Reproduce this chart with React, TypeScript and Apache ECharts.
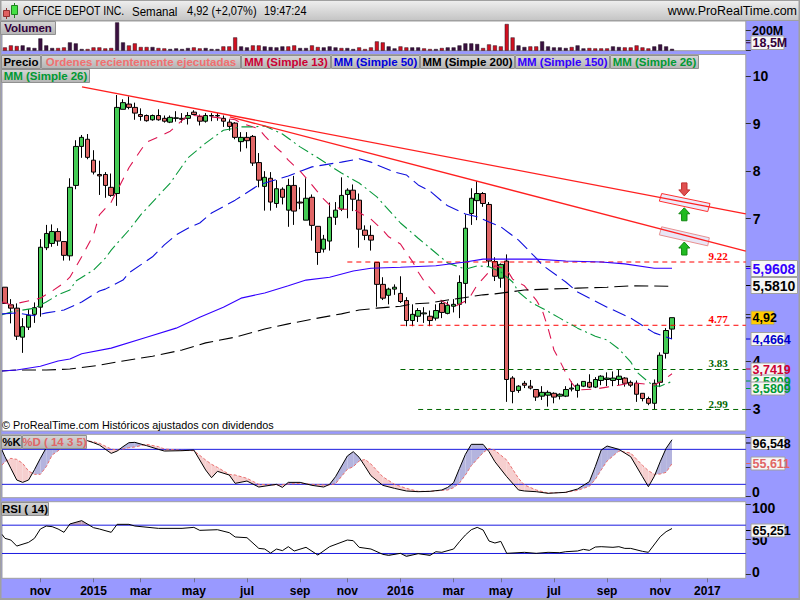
import React, { useEffect, useRef } from "react";
import * as echarts from "echarts";

const FONT = '"Liberation Sans", Arial, sans-serif';
const BG = "#9999ff";

// [open, close, low, high], one row per week
const candles: number[][] = [
  [5.56,5.22,5.22,5.56],[5.19,5.12,4.80,5.31],[5.12,4.53,4.45,5.22],[4.51,4.73,4.18,4.91],[4.72,4.97,4.66,5.10],
  [4.99,5.13,4.81,5.24],[5.14,6.40,4.94,6.57],[6.39,6.69,6.34,6.87],[6.48,6.73,6.41,6.88],[6.73,6.53,6.43,6.80],
  [6.52,6.23,6.12,6.52],[6.22,7.66,6.12,7.85],[7.70,8.52,7.62,8.65],[8.52,8.71,8.28,8.76],[8.67,8.29,8.25,8.78],
  [8.23,7.98,7.93,8.44],[7.93,7.90,7.50,8.22],[7.93,7.70,7.44,7.98],[7.66,7.49,7.46,7.95],[7.53,9.34,7.27,9.60],
  [9.30,9.44,9.30,9.51],[9.41,9.34,9.30,9.57],[9.34,9.22,9.08,9.44],[9.19,9.15,9.06,9.32],[9.17,9.06,9.04,9.19],
  [9.08,9.17,9.06,9.19],[9.17,9.08,9.06,9.30],[9.11,9.05,9.02,9.17],[9.03,9.13,9.01,9.17],[9.11,9.12,9.04,9.26],
  [9.11,9.09,9.02,9.22],[9.11,9.17,8.98,9.24],[9.24,9.19,9.19,9.28],[9.15,9.05,8.96,9.19],[9.05,9.17,9.02,9.22],
  [9.16,9.17,9.05,9.22],[9.16,9.17,9.06,9.22],[9.11,9.05,8.93,9.17],[9.03,8.94,8.85,9.09],[9.01,8.71,8.67,9.03],
  [8.62,8.71,8.41,8.82],[8.71,8.64,8.48,8.82],[8.73,8.17,8.11,8.76],[8.18,7.81,7.66,8.38],[7.68,7.87,7.17,8.00],
  [7.85,7.35,7.17,7.98],[7.32,7.63,7.23,7.81],[7.62,7.45,7.30,7.66],[7.18,7.70,6.83,7.84],[7.70,7.16,6.87,7.90],
  [7.35,7.33,7.20,7.66],[6.97,7.43,6.97,7.85],[7.45,6.86,6.54,7.51],[6.84,6.29,6.03,6.84],[6.36,6.57,6.29,6.66],
  [6.53,7.03,6.33,7.34],[7.03,7.18,6.87,7.35],[7.20,7.49,7.16,7.87],[7.51,7.60,7.01,7.64],[7.60,7.41,7.16,7.72],
  [7.39,6.78,6.39,7.53],[6.76,6.65,6.55,6.86],[6.65,6.55,6.33,6.86],[6.08,5.62,5.15,6.08],[5.62,5.33,5.29,5.77],
  [5.39,5.52,5.20,5.55],[5.52,5.56,5.40,5.62],[5.43,5.26,5.23,5.79],[5.28,4.86,4.74,5.35],[4.86,4.99,4.74,5.20],
  [4.95,5.07,4.83,5.12],[5.00,5.02,4.81,5.14],[4.95,4.86,4.74,5.07],[4.91,5.07,4.86,5.20],[5.22,5.03,4.91,5.26],
  [5.01,5.18,4.99,5.26],[5.16,5.20,5.03,5.31],[5.20,5.66,4.91,5.81],[5.64,6.80,5.22,7.09],[7.11,7.43,6.87,7.64],
  [7.38,7.53,6.97,7.79],[7.53,7.32,7.25,7.56],[7.30,6.11,5.99,7.35],[6.10,5.79,5.69,6.19],[5.75,6.04,5.55,6.06],
  [6.11,3.62,3.15,6.25],[3.65,3.37,3.12,3.69],[3.39,3.48,3.34,3.50],[3.54,3.50,3.44,3.59],[3.48,3.44,3.41,3.61],
  [3.41,3.25,3.17,3.41],[3.27,3.35,3.19,3.48],[3.29,3.35,3.05,3.39],[3.33,3.25,3.12,3.35],[3.27,3.31,3.20,3.33],
  [3.27,3.41,3.25,3.48],[3.42,3.44,3.37,3.58],[3.39,3.50,3.24,3.54],[3.48,3.58,3.46,3.58],[3.56,3.46,3.44,3.73],
  [3.46,3.62,3.44,3.67],[3.60,3.69,3.50,3.71],[3.62,3.65,3.48,3.77],[3.60,3.65,3.48,3.79],[3.62,3.69,3.50,3.82],
  [3.65,3.54,3.47,3.67],[3.56,3.50,3.46,3.60],[3.54,3.31,3.15,3.60],[3.33,3.22,3.16,3.33],[3.22,3.12,3.08,3.26],
  [3.12,3.54,2.99,3.62],[3.56,4.13,3.46,4.19],[4.17,4.65,4.06,4.70],[4.68,4.92,4.47,4.92],
];

// millions of shares
const volumes = [
  33,53,47,53,33,27,123,53,27,27,33,83,73,17,17,33,33,23,27,283,83,53,73,37,37,37,27,23,17,23,
  17,27,33,23,27,17,17,43,43,133,43,33,53,53,43,37,33,43,43,53,27,27,53,37,33,43,33,27,27,17,
  33,17,33,93,83,43,23,43,33,33,33,23,17,17,27,33,33,53,73,73,67,27,63,53,43,267,133,53,37,43,
  43,93,43,33,33,27,37,53,23,27,23,23,23,43,37,33,33,53,33,23,43,63,43,18.5,
];
const volumeDownWeeks = [0,1,2,9,10,14,15,16,17,18,21,22,23,24,26,27,32,33,37,38,39,42,43,48,49,52,53,57,60,61,62,63,64,67,68,71,72,74,81,82,83,84,85,86,89,90,96,99,100,101,102,105,106,107,108,109];

// [week, price] read along each moving average
const ma13: number[][] = [[-0.5,5.25],[1,5.19],[6,5.33],[8,5.48],[10,5.65],[11,5.77],[13,6.20],[15,6.66],[16,7.08],[18,7.35],[21,8.07],[23,8.44],[24,8.61],[26,8.72],[28,8.84],[29,8.95],[31,9.18],[35,9.14],[39,9.08],[40,9.01],[43,8.89],[44,8.74],[46,8.49],[47,8.38],[48,8.23],[50,8.00],[51,7.86],[52,7.71],[54,7.41],[55,7.29],[57,7.20],[59,7.20],[61,7.06],[62,6.99],[64,6.76],[65,6.62],[67,6.47],[68,6.28],[69,6.11],[70,5.88],[71,5.69],[73,5.40],[74,5.27],[76,5.14],[78,5.27],[79,5.40],[80,5.61],[82,5.88],[83,6.01],[85,5.94],[86,5.73],[88,5.59],[90,5.29],[91,5.08],[92,4.70],[93,4.24],[94,4.01],[95,3.76],[96,3.55],[97,3.40],[100,3.42],[102,3.46],[104,3.50],[106,3.55],[108,3.53],[110,3.50],[111,3.57],[112,3.65],[113,3.74]];
const ma26: number[][] = [[-0.5,4.98],[1,5.04],[5,5.12],[7,5.25],[9,5.40],[11,5.50],[12,5.69],[15,5.92],[17,6.17],[18,6.34],[21,6.76],[23,7.08],[25,7.35],[28,7.75],[31,8.28],[34,8.59],[37,8.86],[40,8.93],[42,8.93],[44,8.95],[47,8.78],[50,8.51],[53,8.28],[57,7.96],[60,7.75],[63,7.46],[67,6.91],[70,6.59],[73,6.28],[75,6.07],[78,5.94],[80,6.01],[82,5.99],[84,5.88],[86,5.67],[87,5.46],[89,5.25],[91,5.12],[94,4.91],[97,4.70],[100,4.53],[102,4.45],[104,4.26],[106,3.99],[107,3.78],[109,3.57],[110,3.48],[111,3.48],[112,3.53],[113,3.58]];
const ma50: number[][] = [[-0.5,5.00],[2,5.02],[5,4.96],[7,5.02],[10,5.08],[13,5.25],[16,5.48],[17,5.52],[20,5.71],[21,5.86],[25,6.20],[27,6.45],[29,6.66],[31,6.80],[33,6.91],[35,7.12],[39,7.39],[43,7.71],[48,7.90],[52,8.09],[57,8.19],[60,8.26],[62,8.19],[63,8.13],[66,7.98],[68,7.92],[70,7.71],[72,7.58],[74,7.37],[75,7.27],[78,7.10],[80,7.04],[82,6.93],[84,6.83],[87,6.55],[90,6.17],[91,6.03],[95,5.67],[97,5.46],[102,5.14],[106,4.91],[110,4.60],[113,4.47]];
const ma150: number[][] = [[-0.5,3.80],[2,3.82],[6,3.90],[9,4.01],[11,4.05],[13,4.16],[18,4.28],[24,4.51],[29,4.70],[33,4.93],[37,5.14],[40,5.33],[44,5.44],[48,5.59],[51,5.71],[55,5.77],[59,5.90],[62,5.96],[67,5.98],[73,6.01],[78,6.09],[81,6.15],[85,6.15],[90,6.15],[95,6.11],[101,6.09],[105,6.05],[110,5.96],[113,5.96]];
const ma200: number[][] = [[-0.5,3.80],[2,3.82],[7,3.82],[11,3.84],[16,3.92],[20,4.01],[25,4.11],[30,4.24],[34,4.39],[39,4.51],[44,4.68],[48,4.79],[53,4.91],[57,5.00],[60,5.08],[63,5.12],[67,5.16],[69,5.21],[72,5.23],[75,5.29],[81,5.40],[83,5.42],[88,5.50],[92,5.52],[97,5.54],[102,5.56],[106,5.59],[113,5.58]];

const trendA = [[13.05,9.77],[125.5,7.10]];
const trendB = [[38.1,9.14],[125.5,6.32]];
const levelRed1 = [[58,6.09],[125.5,6.09]];
const levelRed2 = [[67,4.76],[125.5,4.76]];
const levelGreen1 = [[67,3.83],[125.5,3.83]];
const levelGreen2 = [[70,2.99],[125.5,2.99]];

const zoneUpper = [[111.25,7.53],[119.44,7.32],[119.05,7.15],[110.85,7.37]];
const zoneLower = [[111.25,6.83],[119.32,6.60],[119.05,6.43],[110.85,6.66]];
const arrowDownTip = [115.08,7.48];
const arrowUpTips = [[115.08,7.23],[115.08,6.51]];

// [week, %K, %D]
const stoch: number[][] = [[-0.5,78.8,53.1],[0,67.4,58.8],[1,47.4,64.6],[2,27.4,62.8],[3,23.4,56],[4,27.4,42.8],[5,45.1,37.1],[6,64.6,37.1],[7,82.8,50.3],[8,93.1,70.3],[10,95,84.6],[12,95,93],[14,94.8,94.3],[15,91.4,93.1],[16,87.4,90.3],[18,73.1,80.6],[19,77.1,78.8],[20,84.6,80.6],[21,91.4,82.8],[22,92,84],[24,86.3,88.6],[26,80,84.6],[27,77.1,80.6],[30,77.7,78.3],[32,78.8,77.7],[34,44.6,61.7],[35,31.4,54.3],[36,42.3,49.1],[38,36,37.1],[39,21.7,36],[41,25.7,30.3],[43,15.4,20],[46,20,18.9],[47,14.8,19.4],[48,23.4,20.6],[50,23.4,21.7],[52,18.3,20],[54,15.4,18.9],[55,20,18.9],[56,33.1,21.1],[58,68.6,45.7],[59,76,50.3],[60,66.3,60],[61,50.8,62.8],[62,34.8,54.8],[64,18.3,33.1],[66,13.1,20],[68,8.6,13.1],[70,7.4,8],[72,8,8],[74,10.3,9.7],[75,14.8,10.3],[76,22.8,14.3],[77,47.4,22.3],[78,71.4,36],[79,88.6,52],[81,88.6,74.3],[82,76,81.7],[83,58.8,78.3],[85,33.1,61.7],[87,10.3,30.3],[88,8.6,18.9],[90,7.4,10.3],[92,4.6,5.1],[95,6.3,6.3],[97,12,9.7],[99,24.6,16.6],[100,50.3,28.6],[101,78.8,44.6],[102,85.7,60],[104,80,77.1],[106,67.4,73.7],[108,33.1,52.6],[109,16,43.4],[110,33.7,37.1],[111,58.8,37.7],[112,81.7,40.6],[113,96.5,55.6]];
const stochBands = [80, 20];

// [week, RSI]
const rsi: number[][] = [[-0.5,57],[0,51.4],[1,49],[2,40.5],[4,45.7],[5,51.4],[6,64.6],[7,68.8],[8,67.9],[9,64.6],[10,59.9],[11,71.7],[13,76.4],[15,66.5],[16,64.6],[18,59.9],[19,71.2],[21,71.2],[22,68.8],[26,65.5],[30,65.5],[32,66.9],[33,62.7],[36,63.6],[38,59.4],[39,53.3],[41,52.3],[43,37.2],[44,36.3],[45,30.6],[46,36.3],[47,34],[48,39.6],[49,33.5],[51,38.7],[53,27.8],[55,39.6],[58,49],[59,48.1],[60,38.7],[62,36.3],[64,28.8],[65,27.3],[67,30.2],[68,25.9],[70,29.7],[72,27.3],[73,32.5],[74,31.6],[76,36.3],[77,46.7],[78,56.1],[79,63.6],[80,66.9],[81,63.2],[82,47.6],[83,44.8],[84,47.1],[85,30.2],[88,31.6],[90,30.2],[92,31.6],[94,31.1],[95,32.5],[97,33.5],[98,35.8],[99,34.4],[100,39.1],[101,39.6],[103,38.7],[104,39.6],[105,37.2],[106,37.2],[108,33],[109,31.6],[111,53.7],[112,60.8],[113,65.25]];
const rsiBands = [70, 30];

const weekCount = 126;
const tickWeeks = [6,15,23,32,41,50,58,67,76,84,93,102,111,119];
const tickLabels = ["nov","2015","mar","may","jul","sep","nov","2016","mar","may","jul","sep","nov","2017"];
const priceTicks = [3,4,5,6,7,8,9,10];
const priceLabels = [3,4,7,8,9,10];
const stochTicks = [0,50,100];
const rsiTicks = [0,50,100];
const volumeTicks = [0,100,200];

const categories = Array.from({ length: weekCount }, (_, i) => {
  const k = tickWeeks.indexOf(i);
  return k >= 0 ? tickLabels[k] : "";
});

const GRID_L = 2, GRID_W = 743.8;
const panes = [
  { top: 21, height: 29.7, min: 0, max: 297 },
  { top: 54.5, height: 376.5, min: 2.5375, max: 10.452 },
  { top: 434.3, height: 63.4, min: -2.9, max: 105.8 },
  { top: 501.7, height: 76.6, min: -5.1, max: 103.2 },
];

function gradient(a: string, b: string) {
  return new echarts.graphic.LinearGradient(0, 0, 0, 1, [
    { offset: 0, color: a },
    { offset: 1, color: b },
  ]);
}

function chip(x: number, y: number, w: number, h: number, label: string, color: string, size = 11.5) {
  return [
    { type: "rect", z: 100, shape: { x: x + 0.5, y: y + 0.5, width: w - 1, height: h - 1 },
      style: { fill: gradient("#d6d6d6", "#b4b4b4"), stroke: "#909090", lineWidth: 1 } },
    { type: "text", z: 101, x: x + w / 2, y: y + h / 2,
      style: { text: label, fill: color, font: `bold ${size}px ${FONT}`, textAlign: "center", textVerticalAlign: "middle" } },
  ];
}

function valueBox(x: number, y: number, w: number, h: number, label: string, color: string, size: number, fill = "#f6f6f6", z = 110) {
  return [
    { type: "line", z, shape: { x1: 746, y1: y + h / 2, x2: 751, y2: y + h / 2 }, style: { stroke: color, lineWidth: 1 } },
    { type: "rect", z, shape: { x: x + 0.5, y: y + 0.5, width: w - 1, height: h - 1 }, style: { fill, stroke: "#a0a0a0", lineWidth: 1 } },
    { type: "text", z: z + 1, x: x + 2, y: y + h / 2 + 0.5,
      style: { text: label, fill: color, font: `bold ${size}px ${FONT}`, textAlign: "left", textVerticalAlign: "middle" } },
  ];
}

function plain(x: number, y: number, label: string, color: string, font: string, align = "left", z = 100, scaleX = 1) {
  return { type: "text", z, x, y, scaleX, style: { text: label, fill: color, font, textAlign: align, textVerticalAlign: "middle" } };
}

// Polygons between two curves, split where they cross
function fillPolys(pts: number[][], upColor: string, downColor: string, onlyUp = false, onlyDown = false) {
  const out: { pts: number[][]; color: string }[] = [];
  for (let i = 0; i < pts.length - 1; i++) {
    const [x0, a0, b0] = pts[i];
    const [x1, a1, b1] = pts[i + 1];
    const d0 = a0 - b0, d1 = a1 - b1;
    const push = (p: number[][], up: boolean) => {
      if ((up && onlyDown) || (!up && onlyUp)) return;
      out.push({ pts: p, color: up ? upColor : downColor });
    };
    if (d0 * d1 < 0) {
      const t = d0 / (d0 - d1);
      const xc = x0 + t * (x1 - x0);
      const yc = a0 + t * (a1 - a0);
      push([[x0, a0], [xc, yc], [x0, b0]], d0 > 0);
      push([[xc, yc], [x1, a1], [x1, b1]], d1 > 0);
    } else {
      push([[x0, a0], [x1, a1], [x1, b1], [x0, b0]], d0 + d1 > 0);
    }
  }
  return out;
}

function polySeries(polys: { pts: number[][]; color: string; stroke?: string }[], xi: number, yi: number, z: number) {
  return {
    type: "custom", xAxisIndex: xi, yAxisIndex: yi, z, silent: true, clip: true,
    data: polys.map((p) => p.pts[0]),
    encode: { x: 0, y: 1 },
    renderItem: (params: any, api: any) => {
      const poly = polys[params.dataIndex];
      return {
        type: "polygon",
        shape: { points: poly.pts.map((q) => api.coord(q)) },
        style: { fill: poly.color, stroke: poly.stroke || "none", lineWidth: 1 },
      };
    },
  };
}

function arrowSeries(tips: number[][], dir: number, fill: string, stroke: string) {
  return {
    type: "custom", xAxisIndex: 4, yAxisIndex: 1, z: 8, silent: true,
    data: tips, encode: { x: 0, y: 1 },
    renderItem: (_: any, api: any) => {
      const c = api.coord([api.value(0), api.value(1)]);
      const s = dir;
      const pts = [[0,0],[5.5,6*s],[2.7,6*s],[2.7,13*s],[-2.7,13*s],[-2.7,6*s],[-5.5,6*s]].map((p) => [c[0] + p[0], c[1] + p[1]]);
      return { type: "polygon", shape: { points: pts }, style: { fill, stroke, lineWidth: 1 } };
    },
  };
}

function maSeries(data: number[][], color: string, dash: number[] | null, z = 6) {
  return {
    type: "line", xAxisIndex: 4, yAxisIndex: 1, data, symbol: "none", z, silent: true,
    lineStyle: { color, width: 1.1, type: dash || "solid" },
  };
}

function flat(data: number[][], xi: number, yi: number, color: string, dash: number[] | null, width = 1, z = 5) {
  return { type: "line", xAxisIndex: xi, yAxisIndex: yi, data, symbol: "none", z, silent: true,
    lineStyle: { color, width, type: dash || "solid" } };
}

export default function App() {
  const ref = useRef<HTMLDivElement>(null);
  useEffect(() => {
    const chart = echarts.init(ref.current!, undefined, { renderer: "svg" });

    const catAxis = (gridIndex: number, show: boolean) => ({
      type: "category", gridIndex, data: categories, boundaryGap: true,
      axisLine: { show: false, onZero: false },
      axisTick: show
        ? { show: true, alignWithLabel: true, length: 4, lineStyle: { color: "#707090" }, interval: (i: number) => tickWeeks.includes(i) }
        : { show: false },
      axisLabel: show
        ? { show: true, interval: (i: number) => tickWeeks.includes(i), color: "#000", fontFamily: FONT, fontWeight: "bold", fontSize: 12, margin: 7 }
        : { show: false },
      splitLine: { show: false },
    });
    const valAxis = (gridIndex: number) => ({
      type: "value", gridIndex, min: -0.5, max: weekCount - 0.5, show: false, splitLine: { show: false },
    });
    const yAxis = (i: number, ticks: number[], labels: number[] | null) => ({
      type: "value", gridIndex: i, position: "right", min: panes[i].min, max: panes[i].max, scale: true,
      axisLine: { show: false, onZero: false },
      splitLine: { show: false },
      axisTick: { show: true, length: 5, lineStyle: { color: "#303030" }, customValues: ticks },
      axisLabel: labels
        ? { show: true, customValues: labels, color: "#000", fontFamily: FONT, fontWeight: "bold", fontSize: 14, margin: 7, align: "left", showMinLabel: true, showMaxLabel: true }
        : { show: false },
    });

    const downSet = new Set(volumeDownWeeks);

    const graphic: any[] = [
      // frame
      { type: "rect", z: 90, shape: { x: 0, y: 0, width: 800, height: 20.5 }, style: { fill: gradient("#f0f0f0", "#c4c4c4") } },
      { type: "line", z: 91, shape: { x1: 0, y1: 0.5, x2: 800, y2: 0.5 }, style: { stroke: "#a0a0a0", lineWidth: 1 } },
      { type: "line", z: 91, shape: { x1: 0, y1: 20.5, x2: 800, y2: 20.5 }, style: { stroke: "#a0a0a0", lineWidth: 1 } },
      { type: "rect", z: 90, shape: { x: 0, y: 0, width: 1.5, height: 600 }, style: { fill: "#a0a0a0" } },
      { type: "rect", z: 90, shape: { x: 0, y: 598, width: 800, height: 2 }, style: { fill: "#a0a0a0" } },
      { type: "rect", z: 90, shape: { x: 798.5, y: 0, width: 1.5, height: 600 }, style: { fill: "#a0a0a0" } },
      // title icon
      { type: "line", z: 92, shape: { x1: 6.5, y1: 8, x2: 6.5, y2: 19 }, style: { stroke: "#903030" } },
      { type: "rect", z: 93, shape: { x: 3.5, y: 10.5, width: 6, height: 6 }, style: { fill: "#e06060", stroke: "#903030" } },
      { type: "line", z: 92, shape: { x1: 14.5, y1: 3, x2: 14.5, y2: 18 }, style: { stroke: "#208020" } },
      { type: "rect", z: 93, shape: { x: 11.5, y: 5.5, width: 6, height: 9 }, style: { fill: "#44e044", stroke: "#208020" } },
      plain(23, 11, "OFFICE DEPOT INC.", "#000", `12px ${FONT}`, "left", 100, 0.875),
      plain(132, 11, "Semanal", "#000", `12px ${FONT}`, "left", 100, 0.96),
      plain(187, 11, "4,92 (+2,07%)", "#000", `12px ${FONT}`, "left", 100, 0.92),
      plain(264, 11, "19:47:24", "#000", `12px ${FONT}`, "left", 100, 0.91),
      plain(797, 11, "www.ProRealTime.com", "#000", `12px ${FONT}`, "right", 100, 1.04),
      // chips
      ...chip(0, 21, 56, 14, "Volumen", "#33003a"),
      ...chip(1, 55, 40, 14, "Precio", "#000"),
      ...chip(41, 55, 200, 14, "Ordenes recientemente ejecutadas", "#f07070"),
      ...chip(241, 55, 90, 14, "MM (Simple 13)", "#cc0033"),
      ...chip(331, 55, 89, 14, "MM (Simple 50)", "#0000dd"),
      ...chip(420, 55, 95, 14, "MM (Simple 200)", "#000"),
      ...chip(515, 55, 95, 14, "MM (Simple 150)", "#3300ff"),
      ...chip(610, 55, 89, 14, "MM (Simple 26)", "#009933"),
      ...chip(1, 69, 89, 14, "MM (Simple 26)", "#009933"),
      ...chip(1, 435, 21, 14, "%K", "#000"),
      ...chip(22, 435, 65, 14, "%D ( 14 3 5)", "#e06666"),
      ...chip(1, 502, 48, 14, "RSI ( 14)", "#000"),
      plain(2, 424.5, "© ProRealTime.com Históricos ajustados con dividendos", "#000", `10.8px ${FONT}`),
      // level captions
      plain(718, 256, "9.22", "#ff0000", `bold 11px "Liberation Serif", serif`, "center", 20),
      plain(718, 318.5, "4.77", "#ff0000", `bold 11px "Liberation Serif", serif`, "center", 20),
      plain(718, 362.5, "3.83", "#006600", `bold 11px "Liberation Serif", serif`, "center", 20),
      plain(718, 404, "2.99", "#006600", `bold 11px "Liberation Serif", serif`, "center", 20),
      // right scale extras
      plain(752, 30.5, "200M", "#000", `bold 12.5px ${FONT}`),
      plain(752, 492, "0", "#000", `bold 14px ${FONT}`),
      plain(752, 508, "100", "#000", `bold 14px ${FONT}`),
      plain(752, 539.5, "50", "#000", `bold 14px ${FONT}`),
      plain(752, 572, "0", "#000", `bold 14px ${FONT}`),
      // value boxes
      ...valueBox(750.5, 35.5, 34, 14.5, "18,5M", "#33003a", 12.5),
      ...valueBox(750.5, 260, 47.5, 17, "5,9608", "#3300ff", 14),
      ...valueBox(750.5, 277, 47.5, 17, "5,5810", "#000", 14),
      ...valueBox(750.5, 310.5, 24, 14.5, "4,92", "#000", 12.5, "#ffcc00"),
      ...valueBox(750.5, 332, 35, 14, "4,4664", "#0000cc", 12.5),
      ...valueBox(750.5, 374, 35, 14, "3,5809", "#009933", 12.5, "#f6f6f6", 110),
      ...valueBox(750.5, 362.5, 35, 13, "3,7419", "#cc0033", 12.5, "#f6f6f6", 114),
      ...valueBox(750.5, 381.5, 35, 14, "3,5809", "#009933", 12.5, "#f6f6f6", 118),
      ...valueBox(750.5, 436, 35, 14, "96,548", "#000", 12.5),
      ...valueBox(750.5, 456.5, 35, 14, "55,611", "#e06666", 12.5),
      ...valueBox(750.5, 523.5, 35, 14, "65,251", "#000", 12.5),
    ];

    const option: any = {
      animation: false,
      backgroundColor: BG,
      grid: panes.map((p) => ({
        left: GRID_L, top: p.top, width: GRID_W, height: p.height, show: true,
        backgroundColor: "#ffffff", borderColor: "#a0a0a0", borderWidth: 1, containLabel: false,
      })),
      xAxis: [catAxis(0, false), catAxis(1, false), catAxis(2, false), catAxis(3, true), valAxis(1), valAxis(2), valAxis(3)],
      yAxis: [yAxis(0, volumeTicks, null), yAxis(1, priceTicks, priceLabels), yAxis(2, stochTicks, null), yAxis(3, rsiTicks, null)],
      graphic,
      series: [
        {
          type: "bar", xAxisIndex: 0, yAxisIndex: 0, barWidth: 4, silent: true,
          data: volumes.map((v, i) => ({
            value: v,
            itemStyle: { color: downSet.has(i) ? "#d01020" : "#3a1040", borderColor: "#201020", borderWidth: 0.5 },
          })),
        },
        {
          type: "candlestick", xAxisIndex: 1, yAxisIndex: 1, barWidth: 5, silent: true, z: 3,
          data: candles,
          itemStyle: { color: "#44cc55", color0: "#e06666", borderColor: "#000", borderColor0: "#000", borderWidth: 1 },
        },
        flat(levelRed1, 4, 1, "#ff0000", [5, 4]),
        flat(levelRed2, 4, 1, "#ff0000", [5, 4]),
        flat(levelGreen1, 4, 1, "#006600", [5, 4]),
        flat(levelGreen2, 4, 1, "#006600", [5, 4]),
        maSeries(ma13, "#dc1450", [10, 8]),
        maSeries(ma26, "#0a9a3c", [11, 4, 2, 4]),
        maSeries(ma50, "#1010dd", [14, 6]),
        maSeries(ma200, "#000000", [14, 6]),
        maSeries(ma150, "#3300ff", null),
        polySeries([
          { pts: zoneUpper, color: "#ecebfa", stroke: "#ff3030" },
          { pts: zoneLower, color: "#e8e6f6", stroke: "#e89090" },
        ], 4, 1, 7),
        flat(trendA, 4, 1, "#ff2020", null, 1.3, 8),
        flat(trendB, 4, 1, "#ff2020", null, 1.3, 8),
        arrowSeries([arrowDownTip], -1, "#e05050", "#c03030"),
        arrowSeries(arrowUpTips, 1, "#22bb22", "#118811"),
        // stochastic
        polySeries(fillPolys(stoch, "#b4b4de", "#f6cfcf"), 5, 2, 3),
        ...stochBands.map((b) => flat([[-0.5, b], [125.5, b]], 5, 2, "#1a1ae0", null, 1, 4)),
        flat(stoch.map((r) => [r[0], r[2]]), 5, 2, "#e87070", [3, 2], 1, 5),
        flat(stoch.map((r) => [r[0], r[1]]), 5, 2, "#000000", null, 1, 6),
        // RSI
        polySeries(fillPolys(rsi.map((r) => [r[0], r[1], rsiBands[0]]), "#c8a8b8", "#ffffff", true), 6, 3, 3),
        polySeries(fillPolys(rsi.map((r) => [r[0], r[1], rsiBands[1]]), "#ffffff", "#b0b0c8", false, true), 6, 3, 3),
        ...rsiBands.map((b) => flat([[-0.5, b], [125.5, b]], 6, 3, "#1a1ae0", null, 1, 4)),
        flat(rsi, 6, 3, "#000000", null, 1, 6),
      ],
    };
    chart.setOption(option);
    return () => chart.dispose();
  }, []);
  return <div ref={ref} style={{ position: "absolute", left: 0, top: 0, width: 800, height: 600 }} />;
}
